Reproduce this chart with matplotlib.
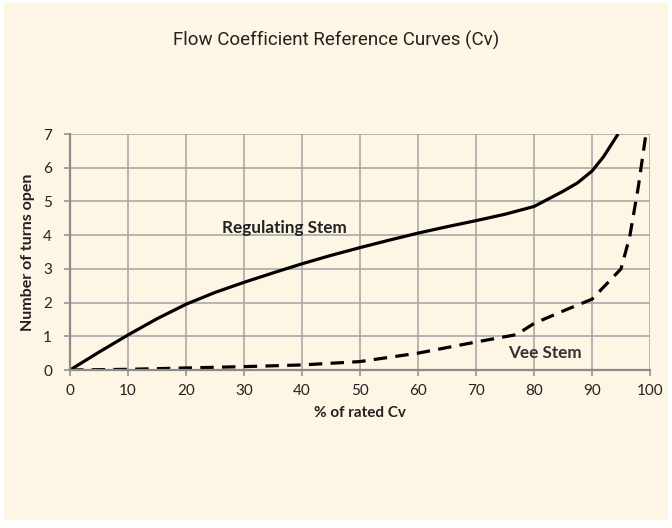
import matplotlib.pyplot as plt
from matplotlib.patches import Rectangle

# % of rated Cv vs. number of turns open
reg_x = [0, 5, 10, 15, 20, 25, 30, 35, 40, 45, 50, 55, 60, 65, 70, 75, 80, 85, 87.5, 90, 92, 94.5]
reg_y = [0, 0.53, 1.04, 1.52, 1.95, 2.3, 2.6, 2.88, 3.15, 3.4, 3.63, 3.85, 4.06, 4.25, 4.43, 4.62,
         4.85, 5.3, 5.55, 5.9, 6.33, 7.0]

vee_x = [0, 10, 20, 30, 40, 50, 60, 70, 77, 80, 85, 90, 95, 96.5, 98, 99.3]
vee_y = [0, 0.02, 0.06, 0.1, 0.15, 0.25, 0.5, 0.83, 1.05, 1.38, 1.75, 2.1, 3.0, 3.95, 5.45, 7.0]

x_ticks = list(range(0, 101, 10))
y_ticks = list(range(0, 8))

bg = '#fef6e4'
grid_col = '#a3a3a3'
body_font = ['Lato', 'DejaVu Sans']
title_font = ['Liberation Sans Narrow', 'Roboto', 'DejaVu Sans']

fig = plt.figure(figsize=(6.72, 5.28), dpi=100, facecolor='white')
# cream panel with a thin white margin
fig.patches.append(Rectangle((4 / 672, 8 / 528), 664 / 672, 517 / 528, transform=fig.transFigure,
                             facecolor=bg, edgecolor='none', zorder=-10))

ax = fig.add_axes([70 / 672, 1 - 370 / 528, 580 / 672, 236 / 528])
ax.set_facecolor(bg)

ax.plot(reg_x, reg_y, color='black', lw=2.3, solid_capstyle='butt')
ax.plot(vee_x, vee_y, color='black', lw=2.3, linestyle=(0, (4.2, 2.6)))

ax.set_xlim(0, 100)
ax.set_ylim(0, 7)
ax.set_xticks(x_ticks)
ax.set_yticks(y_ticks)
ax.grid(True, color=grid_col, lw=1.1)
ax.set_axisbelow(True)

for side in ['top', 'right']:
    ax.spines[side].set_visible(False)
for side in ['left', 'bottom']:
    ax.spines[side].set_color('#8c8c8c')
    ax.spines[side].set_linewidth(1.6)

ax.tick_params(direction='out', length=4, width=1.1, color='#8c8c8c',
               labelsize=11, labelcolor='#222222')
ax.tick_params(axis='y', pad=9)
ax.tick_params(axis='x', pad=6)
for lab in ax.get_xticklabels() + ax.get_yticklabels():
    lab.set_family(body_font)

ax.set_xlabel('% of rated Cv', family=body_font, fontsize=11, fontweight='bold',
              color='#222222', labelpad=6)
ax.set_ylabel('Number of turns open', family=body_font, fontsize=11.5, fontweight='bold',
              color='#222222', labelpad=6)

ax.text(26.2, 4.2, 'Regulating Stem', family=body_font, fontsize=12.3, fontweight='bold',
        color='#222222', va='center', ha='left')
ax.text(75.5, 0.5, 'Vee Stem', family=body_font, fontsize=12.3, fontweight='bold',
        color='#333333', va='center', ha='left')

fig.text(336 / 672, 1 - 40 / 528, 'Flow Coefficient Reference Curves (Cv)',
         family=title_font, fontsize=13.5, color='#222222', ha='center', va='center')

fig.savefig('out.png', dpi=100, facecolor=fig.get_facecolor())
